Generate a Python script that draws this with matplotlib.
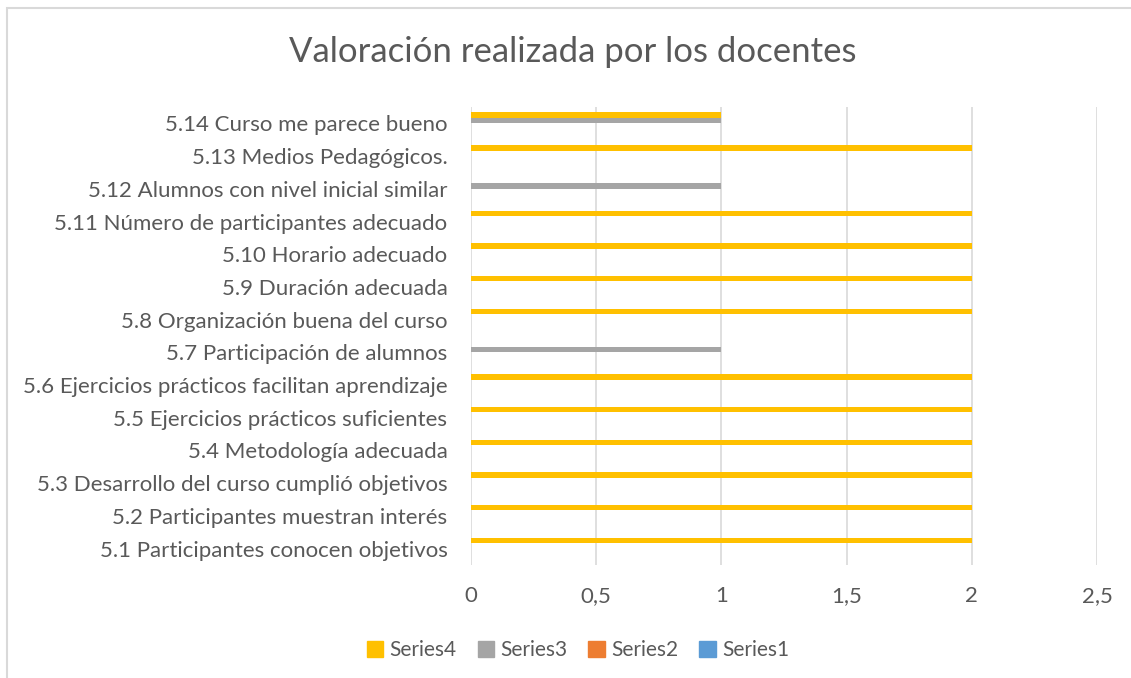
import numpy as np
import matplotlib
matplotlib.use("Agg")
from matplotlib import pyplot as plt
from matplotlib.patches import Rectangle, Patch

# ---------------------------- Data ---------------------------- #

categories = [
    "5.1 Participantes conocen objetivos",
    "5.2 Participantes muestran interés",
    "5.3 Desarrollo del curso cumplió objetivos",
    "5.4 Metodología adecuada",
    "5.5 Ejercicios prácticos suficientes",
    "5.6 Ejercicios prácticos facilitan aprendizaje",
    "5.7 Participación de alumnos",
    "5.8 Organización buena del curso",
    "5.9 Duración adecuada",
    "5.10 Horario adecuado",
    "5.11 Número de participantes adecuado",
    "5.12 Alumnos con nivel inicial similar",
    "5.13 Medios Pedagógicos.",
    "5.14 Curso me parece bueno",
]

series1 = [0, 0, 0, 0, 0, 0, 0, 0, 0, 0, 0, 0, 0, 0]
series2 = [0, 0, 0, 0, 0, 0, 0, 0, 0, 0, 0, 0, 0, 0]
series3 = [0, 0, 0, 0, 0, 0, 1, 0, 0, 0, 0, 1, 0, 1]
series4 = [2, 2, 2, 2, 2, 2, 0, 2, 2, 2, 2, 0, 2, 1]

series_names = ["Series1", "Series2", "Series3", "Series4"]
series_colors = ["#5B9BD5", "#ED7D31", "#A5A5A5", "#FFC000"]

x_ticks = [0, 0.5, 1, 1.5, 2, 2.5]
x_tick_labels = ["0", "0,5", "1", "1,5", "2", "2,5"]

# ---------------------------- Figure ---------------------------- #

plt.rcParams['font.family'] = ['Lato', 'DejaVu Sans']
text_color = "#595959"

W, H = 1131, 678
fig = plt.figure(figsize=(W / 100, H / 100), dpi=100)

# chart frame (cropped on right/bottom like the screenshot)
fig.patches.append(Rectangle((7 / W, -0.1), 1.2, 1 - 8 / H + 0.1, transform=fig.transFigure,
                             fill=False, edgecolor="#D9D9D9", lw=1.5))

ax = fig.add_axes([471 / W, 1 - 565 / H, (1097 - 471) / W, (565 - 107) / H])

y = np.arange(len(categories))
bar_h = 0.168
all_series = [series1, series2, series3, series4]
for i, (vals, name, col) in enumerate(zip(all_series, series_names, series_colors)):
    ax.barh(y + (i - 1.5) * bar_h, vals, height=bar_h, color=col, label=name, zorder=3)

ax.set_xlim(0, 2.5)
ax.set_ylim(-0.5, len(categories) - 0.5)
ax.set_xticks(x_ticks)
ax.set_xticklabels(x_tick_labels)
ax.set_yticks(y)
ax.set_yticklabels(categories)
ax.tick_params(axis="both", length=0, colors=text_color, labelsize=16)
ax.tick_params(axis="x", pad=15)
ax.tick_params(axis="y", pad=17)
ax.grid(axis="x", color="#D9D9D9", lw=1.2, zorder=0)
for s in ax.spines.values():
    s.set_visible(False)

fig.text(573 / W, 1 - 52 / H, "Valoración realizada por los docentes",
         ha="center", va="center", fontsize=25, color=text_color)

handles = [Patch(color=c) for c in series_colors[::-1]]
fig.legend(handles, series_names[::-1], loc="center", bbox_to_anchor=(578 / W, 1 - 650 / H),
           ncol=4, frameon=False, fontsize=15, labelcolor=text_color,
           handlelength=0.8, handleheight=0.8, handletextpad=0.3, columnspacing=1.0)

fig.savefig("out.png", dpi=100)
